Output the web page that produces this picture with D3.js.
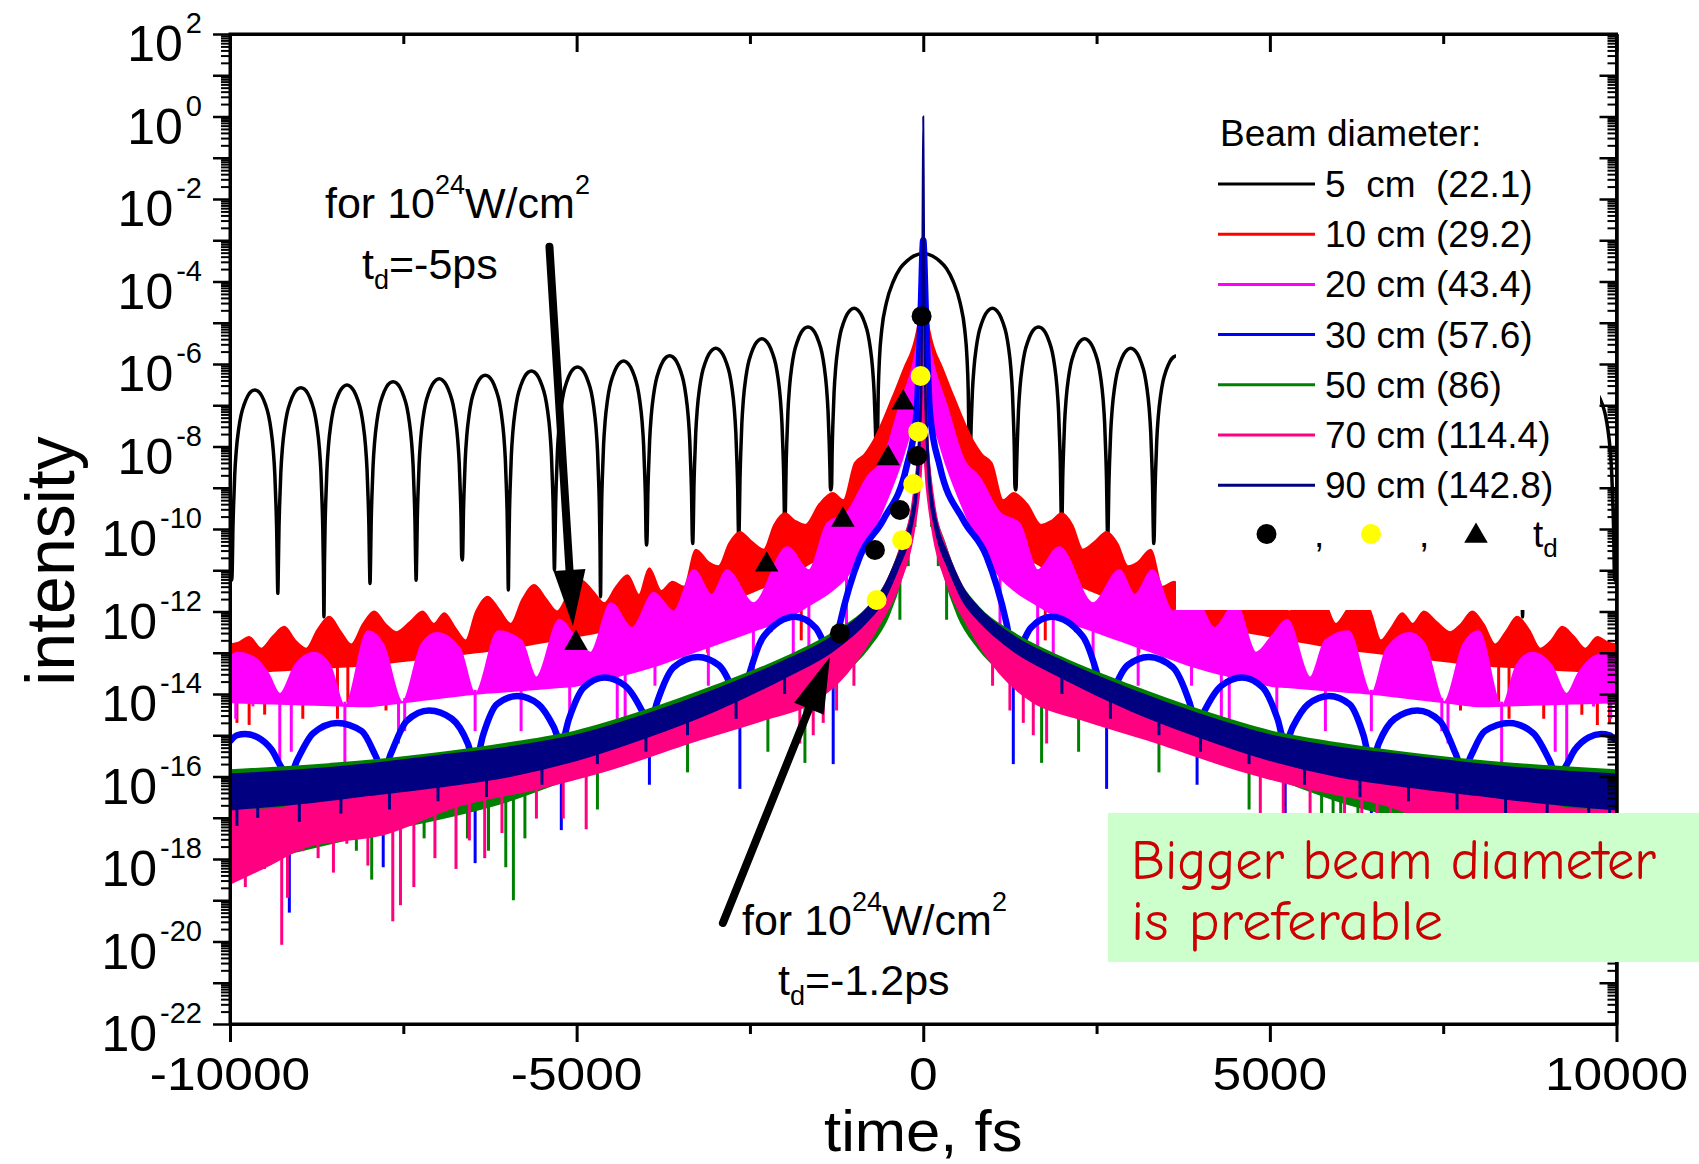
<!DOCTYPE html>
<html><head><meta charset="utf-8">
<script src="https://cdn.jsdelivr.net/npm/d3@7"></script>
<style>body{margin:0;background:#fff}svg{display:block}text{font-family:"Liberation Sans",Arial,sans-serif}</style>
</head><body>
<svg id="c" width="1699" height="1164"></svg>
<script>
// ---------------- DATA (time in fs, values are log10 of intensity) ----------------
const xTicksMajor = [-10000, -5000, 0, 5000, 10000];
const xTicksMinor = [-7500, -2500, 2500, 7500];
const yLabelExps = [2, 0, -2, -4, -6, -8, -10, -12, -14, -16, -18, -20, -22];

const legendLabels = ["5  cm  (22.1)", "10 cm (29.2)", "20 cm (43.4)", "30 cm (57.6)", "50 cm (86)", "70 cm (114.4)", "90 cm (142.8)"];
const seriesColors = ["#000000", "#ff0000", "#ff00ff", "#0000ff", "#008000", "#ff0080", "#000080"];

// 5 cm: sinc-like lobes (left half; right half is the mirror image)
const blackZeros = [-10640, -9975, -9310, -8645, -7980, -7315, -6650, -5985, -5320, -4655, -3990, -3325, -2660, -1995, -1330, -665];
const blackZeroDepth = [-11.0, -11.24, -11.56, -12.13, -11.32, -11.24, -10.75, -11.48, -10.99, -11.64, -10.39, -10.35, -10.27, -10.02, -9.05, -8.25];
const blackPeaks = [-6.68, -6.63, -6.575, -6.51, -6.43, -6.36, -6.27, -6.17, -6.07, -5.93, -5.80, -5.62, -5.39, -5.10, -4.65];
const blackCentralPeak = -3.32;
// shape of one side lobe: [fraction of lobe, decades below lobe top]
const lobeProfile = [[0.012, -4.3], [0.025, -3.4], [0.04, -2.8], [0.065, -2.05], [0.1, -1.45], [0.15, -0.95], [0.2, -0.62], [0.27, -0.35], [0.35, -0.14], [0.43, -0.03], [0.5, 0]];
// shape of the central lobe: [fraction of half width, decades below top]
const centralProfile = [[0.975, -3.3], [0.95, -2.55], [0.9, -1.85], [0.8, -1.2], [0.65, -0.68], [0.5, -0.36], [0.35, -0.18], [0.2, -0.06], [0, 0]];

// 10 cm (red) band
const redUpper = [[-10000,-12.8],[-9870,-12.75],[-9724,-12.62],[-9550,-12.9],[-9380,-12.6],[-9217,-12.37],[-9060,-12.7],[-8900,-12.9],[-8740,-12.45],[-8568,-12.13],[-8400,-12.5],[-8250,-12.8],[-8080,-12.3],[-7919,-12.0],[-7760,-12.3],[-7600,-12.5],[-7400,-12.25],[-7221,-12.0],[-7060,-12.3],[-6909,-12.04],[-6750,-12.4],[-6600,-12.7],[-6450,-12.0],[-6284,-11.64],[-6120,-11.95],[-5950,-12.3],[-5780,-11.7],[-5612,-11.36],[-5440,-11.7],[-5280,-12.0],[-5110,-11.55],[-4938,-11.24],[-4770,-11.5],[-4600,-11.8],[-4430,-11.4],[-4265,-11.12],[-4100,-11.6],[-3953,-10.95],[-3780,-11.5],[-3616,-11.28],[-3450,-11.4],[-3280,-10.5],[-3100,-10.8],[-2950,-10.9],[-2800,-10.35],[-2645,-10.07],[-2480,-10.3],[-2300,-10.5],[-2150,-9.9],[-1996,-9.62],[-1850,-9.8],[-1700,-9.9],[-1500,-9.4],[-1304,-9.13],[-1150,-9.3],[-987,-8.4],[-850,-8.2],[-730,-7.9],[-440,-6.8],[-267,-6.07],[-150,-5.6],[-90,-5.2],[-30,-4.5],[0,-3.7]];
const redLower = [[-10000,-13.5],[-8000,-13.3],[-6000,-12.9],[-4000,-12.3],[-3000,-11.9],[-2000,-11.2],[-1400,-10.6],[-1000,-9.9],[-700,-9.0],[-400,-7.8],[-150,-6.6],[0,-6.2]];
const redSpikes = [[-9970,-14.0],[-9900,-14.7],[-9724,-14.75],[-9500,-14.5],[-8950,-14.6],[-8800,-14.1],[-8450,-14.6],[-8300,-14.2],[-7750,-14.4],[-7050,-14.0],[-6700,-14.0],[-6000,-13.5],[-5300,-13.3],[-4592,-13.66],[-3920,-13.1],[-3110,-13.0],[-2195,-12.5],[-1760,-12.7]];

// 20 cm (magenta) band
const magUpper = [[-10000,-13.1],[-9900,-13.0],[-9670,-13.1],[-9450,-13.5],[-9280,-14.0],[-9060,-13.3],[-8785,-13.0],[-8560,-13.3],[-8343,-14.3],[-8011,-12.48],[-7790,-12.8],[-7514,-14.2],[-7238,-12.8],[-7017,-12.52],[-6685,-12.9],[-6464,-14.0],[-6133,-12.48],[-5801,-12.7],[-5580,-13.6],[-5249,-12.2],[-5028,-12.6],[-4800,-13.0],[-4505,-11.8],[-4200,-12.4],[-3885,-11.55],[-3600,-12.0],[-3308,-11.0],[-3050,-11.6],[-2831,-11.0],[-2450,-11.8],[-1960,-10.44],[-1650,-11.0],[-1384,-9.86],[-1100,-9.6],[-807,-8.74],[-580,-8.3],[-337,-7.0],[-145,-6.0],[-60,-5.3],[0,-5.0]];
const magLower = [[-10000,-14.2],[-8000,-14.3],[-6500,-14.0],[-5000,-13.8],[-4000,-13.4],[-3000,-12.8],[-2000,-12.2],[-1400,-11.6],[-1000,-11.0],[-700,-10.0],[-400,-8.8],[-150,-7.5],[0,-7.0]];
const magSpikes = [[-9917,-14.6],[-9669,-14.3],[-9282,-15.8],[-9116,-15.4],[-8343,-15.8],[-7569,-15.2],[-7480,-14.9],[-6464,-14.9],[-5801,-14.9],[-5100,-14.6],[-4414,-14.7],[-4300,-14.6],[-3870,-13.8],[-3100,-13.8],[-2450,-13.6],[-1875,-14.1],[-1650,-13.0],[-1107,-12.9]];

// 30 cm (blue) line
const blueLine = [[-10000,-15.15],[-9900,-15.0],[-9779,-14.97],[-9600,-15.05],[-9400,-15.35],[-9250,-15.8],[-9144,-16.0],[-9030,-15.6],[-8800,-14.95],[-8453,-14.7],[-8100,-14.9],[-7900,-15.5],[-7790,-15.9],[-7680,-15.45],[-7450,-14.65],[-7127,-14.4],[-6800,-14.6],[-6570,-15.2],[-6464,-15.7],[-6350,-15.0],[-6150,-14.25],[-5856,-14.05],[-5550,-14.25],[-5330,-14.8],[-5221,-15.2],[-5110,-14.6],[-4900,-13.85],[-4600,-13.6],[-4300,-13.8],[-4060,-14.4],[-3950,-14.8],[-3840,-14.2],[-3600,-13.35],[-3250,-13.1],[-2950,-13.3],[-2750,-13.9],[-2645,-14.4],[-2540,-13.7],[-2300,-12.6],[-1850,-12.13],[-1550,-12.4],[-1390,-12.9],[-1299,-13.1],[-1203,-12.3],[-914,-10.67],[-578,-9.78],[-241,-8.49],[-97,-7.2],[-38,-4.8],[0,-3.0]];
const blueSpikes = [[-9144,-19.3],[-7790,-18.2],[-6464,-18.1],[-5221,-17.3],[-3950,-16.2],[-2645,-16.3],[-1299,-15.7]];

// 50 cm (green) band (mostly hidden under the 70 cm and 90 cm bands)
const greenUpper = [[-10000,-15.85],[-8000,-15.62],[-6000,-15.2],[-5000,-14.9],[-4000,-14.4],[-3000,-13.8],[-2000,-13.12],[-1300,-12.52],[-800,-11.9],[-500,-11.2],[-300,-10.3],[-150,-9.4],[-50,-7.5],[0,-5]];
const greenLower = [[-10000,-18.2],[-8000,-17.4],[-6000,-16.6],[-5000,-16.0],[-4000,-15.5],[-3000,-14.9],[-2000,-14.4],[-1300,-13.7],[-800,-12.9],[-500,-12.1],[-300,-11.1],[-150,-10.0],[-50,-8.8],[0,-7.8]];
const greenSpikes = [[-9890,-18.4],[-9724,-18.3],[-9503,-18.24],[-9337,-17.8],[-8600,-17.6],[-8177,-17.8],[-7956,-18.5],[-7200,-17.5],[-6575,-17.5],[-6271,-17.8],[-6022,-18.2],[-5912,-19.0],[-5746,-17.5],[-4700,-16.8],[-3400,-15.9],[-2241,-15.4],[-1707,-15.67],[-337,-12.2],[-217,-10.9],[-120,-9.95]];

// 70 cm (pink) band
const pinkUpper = [[-10000,-16.8],[-9500,-16.8],[-8895,-16.65],[-7790,-16.3],[-6685,-15.85],[-5580,-15.55],[-4664,-15.1],[-3222,-14.3],[-2260,-13.7],[-1587,-13.15],[-1107,-12.65],[-627,-11.6],[-337,-10.5],[-150,-9.3],[-50,-7.5],[0,-5]];
const pinkLower = [[-10000,-18.6],[-9500,-18.2],[-8895,-17.7],[-7790,-17.4],[-6685,-16.7],[-5580,-16.3],[-4664,-15.9],[-3222,-15.1],[-2260,-14.6],[-1587,-14.2],[-1107,-13.5],[-627,-12.3],[-337,-11.3],[-150,-10.2],[-50,-9],[0,-8]];
const pinkSpikes = [[-9945,-18.5],[-9779,-18.68],[-9503,-18.24],[-9254,-20.08],[-9171,-18.94],[-8950,-17.81],[-8729,-17.98],[-8508,-18.33],[-8315,-17.63],[-8011,-18.16],[-7652,-19.51],[-7541,-19.12],[-7348,-18.68],[-7044,-17.98],[-6740,-18.24],[-6547,-17.55],[-6326,-17.98],[-6077,-17.37],[-5580,-17.02],[-5193,-17.02],[-4862,-17.28],[-1780,-15.2],[-1587,-15.0],[-1443,-14.7],[-1250,-14.4],[-1000,-13.8]];

// 90 cm (navy) band
const navyUpper = [[-10000,-15.95],[-9000,-15.85],[-8000,-15.7],[-7000,-15.5],[-6000,-15.3],[-5000,-15.0],[-4000,-14.5],[-3000,-13.9],[-2000,-13.2],[-1300,-12.6],[-818,-11.95],[-578,-11.45],[-337,-10.55],[-241,-10.15],[-150,-9.5],[-97,-8.8],[-50,-7.4],[-24,-5.8],[-10,-2.5],[0,0]];
const navyLower = [[-10000,-16.8],[-9000,-16.65],[-8000,-16.45],[-7000,-16.25],[-6000,-16.0],[-5000,-15.6],[-4000,-15.05],[-3000,-14.4],[-2000,-13.6],[-1300,-12.95],[-818,-12.25],[-578,-11.75],[-337,-10.85],[-241,-10.45],[-150,-9.8],[-97,-9.2],[-50,-7.9],[-24,-6.4],[-10,-3.5],[0,-1]];
const navySpikes = [[-9900,-17.2],[-9600,-17.0],[-9000,-17.1],[-8400,-16.9],[-7700,-16.8],[-7000,-16.6],[-6300,-16.5],[-5500,-16.2],[-4700,-15.7],[-4000,-15.4],[-3400,-15.0],[-2700,-14.6],[-2000,-14.0]];

// t_d markers
const blackDots = [[-24,-4.84],[-87,-8.23],[-337,-9.54],[-697,-10.51],[-1202,-12.53]];
const yellowDots = [[-38,-6.29],[-73,-7.64],[-145,-8.91],[-304,-10.27],[-673,-11.72]];
const triangles = [[-289,-6.89],[-506,-8.24],[-1159,-9.73],[-2259,-10.82],[-5010,-12.72]];

// annotation arrows [from, tip] in data units
const arrow1 = [[-5392,-3.16],[-5053,-12.35]];
const arrow2 = [[-2890,-19.55],[-1346,-13.1]];

// ---------------- DRAWING ----------------
const X0 = 230, X1 = 1616.5, Y0 = 34, Y1 = 1024;
const svg = d3.select("#c");
const x = d3.scaleLinear().domain([-10000, 10000]).range([X0, X1]);
const y = d3.scaleLog().domain([1e-22, 1e2]).range([Y1, Y0]);
const yL = v => y(Math.pow(10, v));

svg.append("defs").append("clipPath").attr("id", "plot")
  .append("rect").attr("x", X0).attr("y", Y0).attr("width", X1 - X0).attr("height", Y1 - Y0);
const g = svg.append("g").attr("clip-path", "url(#plot)");

const sym = a => a.concat(a.slice(0, -1).reverse().map(([t, v]) => [-t, v]));
const symSp = a => a.concat(a.map(([t, v]) => [-t, v]));

// black curve
function buildBlack() {
  const left = [];
  const fullProf = lobeProfile.concat(lobeProfile.slice(0, -1).reverse().map(([f, d]) => [1 - f, d]));
  for (let i = 0; i < blackPeaks.length; i++) {
    const t0 = blackZeros[i], t1 = blackZeros[i + 1];
    left.push([t0, blackZeroDepth[i]]);
    fullProf.forEach(([f, d]) => {
      const floor = f < 0.5 ? blackZeroDepth[i] : blackZeroDepth[i + 1];
      left.push([t0 + f * (t1 - t0), Math.max(blackPeaks[i] + d, floor)]);
    });
  }
  const zc = blackZeros[blackZeros.length - 1];
  left.push([zc, blackZeroDepth[blackZeroDepth.length - 1]]);
  centralProfile.forEach(([gf, d]) => left.push([gf * zc, blackCentralPeak + d]));
  return sym(left);
}
const lineGen = d3.line().x(d => x(d[0])).y(d => yL(d[1])).curve(d3.curveMonotoneX);
g.append("path").attr("d", lineGen(buildBlack())).attr("fill", "none").attr("stroke", "#000").attr("stroke-width", 3.5);

function band(upper, lower, spikes, color) {
  const U = sym(upper), Lo = sym(lower);
  const lo = d3.scaleLinear().domain(Lo.map(d => d[0])).range(Lo.map(d => d[1]));
  const area = d3.area().x(d => x(d[0])).y1(d => yL(d[1])).y0(d => yL(lo(d[0]))).curve(d3.curveMonotoneX);
  g.append("path").attr("d", area(U)).attr("fill", color).attr("stroke", color).attr("stroke-width", 2);
  g.append("g").selectAll("line").data(symSp(spikes)).join("line")
    .attr("x1", d => x(d[0])).attr("x2", d => x(d[0]))
    .attr("y1", d => yL(lo(d[0])) - 4).attr("y2", d => yL(d[1]))
    .attr("stroke", color).attr("stroke-width", 3);
}
band(redUpper, redLower, redSpikes, seriesColors[1]);
band(magUpper, magLower, magSpikes, seriesColors[2]);
// blue
{
  const B = sym(blueLine);
  const bl = d3.scaleLinear().domain(B.map(d => d[0])).range(B.map(d => d[1]));
  g.append("g").selectAll("line").data(symSp(blueSpikes)).join("line")
    .attr("x1", d => x(d[0])).attr("x2", d => x(d[0]))
    .attr("y1", d => yL(bl(d[0]))).attr("y2", d => yL(d[1]))
    .attr("stroke", seriesColors[3]).attr("stroke-width", 3);
  g.append("path").attr("d", lineGen(B)).attr("fill", "none").attr("stroke", seriesColors[3]).attr("stroke-width", 6.5);
}
band(greenUpper, greenLower, greenSpikes, seriesColors[4]);
band(pinkUpper, pinkLower, pinkSpikes, seriesColors[5]);
band(navyUpper, navyLower, navySpikes, seriesColors[6]);

// markers
g.append("g").selectAll("circle").data(blackDots).join("circle")
  .attr("cx", d => x(d[0])).attr("cy", d => yL(d[1])).attr("r", 10).attr("fill", "#000");
g.append("g").selectAll("circle").data(yellowDots).join("circle")
  .attr("cx", d => x(d[0])).attr("cy", d => yL(d[1])).attr("r", 10).attr("fill", "#ffff00");
const tri = d3.symbol(d3.symbolTriangle, 240);
g.append("g").selectAll("path").data(triangles).join("path")
  .attr("d", tri).attr("transform", d => `translate(${x(d[0])},${yL(d[1]) + 2})`).attr("fill", "#000");

// legend box (white background)
svg.append("rect").attr("x", 1176).attr("y", 90).attr("width", 424).attr("height", 520).attr("fill", "#fff");
const lg = svg.append("g");
lg.append("text").attr("x", 1220).attr("y", 146).attr("font-size", 37).text("Beam diameter:");
legendLabels.forEach((lab, i) => {
  const yy = 184 + i * 50.2;
  lg.append("line").attr("x1", 1218).attr("x2", 1315).attr("y1", yy).attr("y2", yy)
    .attr("stroke", seriesColors[i]).attr("stroke-width", 3);
  lg.append("text").attr("x", 1325).attr("y", yy + 13).attr("font-size", 37)
    .style("white-space", "pre").text(lab);
});
lg.append("circle").attr("cx", 1266.5).attr("cy", 534).attr("r", 10).attr("fill", "#000");
lg.append("circle").attr("cx", 1371).attr("cy", 534).attr("r", 10).attr("fill", "#ffff00");
lg.append("path").attr("d", tri).attr("transform", "translate(1476,536)").attr("fill", "#000");
lg.append("text").attr("x", 1314).attr("y", 547).attr("font-size", 37).text(",");
lg.append("text").attr("x", 1419).attr("y", 547).attr("font-size", 37).text(",");
const tdL = lg.append("text").attr("x", 1533).attr("y", 547).attr("font-size", 37);
tdL.append("tspan").text("t");
tdL.append("tspan").attr("font-size", 26).attr("dy", 10).text("d");

// axes
const ax = svg.append("g");
const decades = d3.range(-22, 3).map(e => Math.pow(10, e));
const minors = [];
for (let e = -22; e < 2; e++) for (let k = 2; k <= 9; k++) minors.push(k * Math.pow(10, e));
function styleAxis(sel, w) {
  sel.select(".domain").attr("stroke-width", 3);
  sel.selectAll(".tick line").attr("stroke-width", w);
  sel.selectAll(".tick text").remove();
}
ax.append("g").attr("transform", `translate(${X0},0)`).call(d3.axisLeft(y).tickValues(decades).tickSize(17).tickSizeOuter(0)).call(s => styleAxis(s, 2.5));
ax.append("g").attr("transform", `translate(${X0},0)`).call(d3.axisLeft(y).tickValues(minors).tickSize(9).tickSizeOuter(0)).call(s => styleAxis(s, 2));
ax.append("g").attr("transform", `translate(${X1},0)`).call(d3.axisLeft(y).tickValues(decades).tickSize(17).tickSizeOuter(0)).call(s => styleAxis(s, 2.5));
ax.append("g").attr("transform", `translate(${X1},0)`).call(d3.axisLeft(y).tickValues(minors).tickSize(9).tickSizeOuter(0)).call(s => styleAxis(s, 2));
ax.append("g").attr("transform", `translate(0,${Y1})`).call(d3.axisBottom(x).tickValues(xTicksMajor).tickSize(18).tickSizeOuter(0)).call(s => styleAxis(s, 3));
ax.append("g").attr("transform", `translate(0,${Y1})`).call(d3.axisBottom(x).tickValues(xTicksMinor).tickSize(10).tickSizeOuter(0)).call(s => styleAxis(s, 3));
ax.append("g").attr("transform", `translate(0,${Y0})`).call(d3.axisBottom(x).tickValues(xTicksMajor).tickSize(18).tickSizeOuter(0)).call(s => styleAxis(s, 3));
ax.append("g").attr("transform", `translate(0,${Y0})`).call(d3.axisBottom(x).tickValues(xTicksMinor).tickSize(10).tickSizeOuter(0)).call(s => styleAxis(s, 3));
ax.append("rect").attr("x", X0).attr("y", Y0).attr("width", X1 - X0).attr("height", Y1 - Y0)
  .attr("fill", "none").attr("stroke", "#000").attr("stroke-width", 3);

// tick labels
yLabelExps.forEach(e => {
  const ty = y(Math.pow(10, e));
  const ex = ax.append("text").attr("x", 202).attr("y", ty - 1).attr("font-size", 29)
    .attr("text-anchor", "end").text(String(e));
  const w = ex.node().getComputedTextLength();
  ax.append("text").attr("x", 202 - w - 3).attr("y", ty + 27).attr("font-size", 50)
    .attr("text-anchor", "end").text("10");
});
xTicksMajor.forEach(v => {
  ax.append("text").attr("transform", `translate(${x(v)},1090) scale(1.12,1)`).attr("font-size", 46)
    .attr("text-anchor", "middle").text(String(v));
});
// axis titles
svg.append("text").attr("x", (X0 + X1) / 2).attr("y", 1151).attr("font-size", 57)
  .attr("text-anchor", "middle").attr("transform", `translate(${(X0 + X1) / 2},0) scale(1.08,1) translate(${-(X0 + X1) / 2},0)`)
  .text("time, fs");
svg.append("text").attr("transform", "translate(74,561) rotate(-90)").attr("font-size", 68)
  .attr("text-anchor", "middle").text("intensity");

// annotations
function arrow([[t1, v1], [t2, v2]]) {
  const xa = x(t1), ya = yL(v1), xb = x(t2), yb = yL(v2);
  const dx = xb - xa, dy = yb - ya, L = Math.hypot(dx, dy), ux = dx / L, uy = dy / L;
  const len = 56, hw = 16, bx = xb - ux * len, by = yb - uy * len;
  svg.append("line").attr("x1", xa).attr("y1", ya).attr("x2", bx + ux * 4).attr("y2", by + uy * 4)
    .attr("stroke", "#000").attr("stroke-width", 8).attr("stroke-linecap", "round");
  svg.append("path").attr("d", `M${xb},${yb}L${bx - uy * hw},${by + ux * hw}L${bx + uy * hw},${by - ux * hw}Z`).attr("fill", "#000");
}
arrow(arrow1);
arrow(arrow2);
function intensityNote(xp, yp) {
  const t = svg.append("text").attr("x", xp).attr("y", yp).attr("font-size", 43);
  t.append("tspan").text("for 10");
  t.append("tspan").attr("font-size", 27).attr("dy", -24).text("24");
  t.append("tspan").attr("dy", 24).text("W/cm");
  t.append("tspan").attr("font-size", 27).attr("dy", -24).text("2");
}
function tdNote(xp, yp, val) {
  const t = svg.append("text").attr("x", xp).attr("y", yp).attr("font-size", 43);
  t.append("tspan").text("t");
  t.append("tspan").attr("font-size", 27).attr("dy", 10).text("d");
  t.append("tspan").attr("dy", -10).text(val);
}
intensityNote(325, 218);
tdNote(362, 279, "=-5ps");
intensityNote(742, 935);
tdNote(778, 995, "=-1.2ps");

// message box
svg.append("rect").attr("x", 1108).attr("y", 813).attr("width", 591).attr("height", 149).attr("fill", "#ccffcc");
svg.append("text").attr("x", 1131).attr("y", 879).attr("font-size", 56).attr("fill", "#cc0000")
  .style("font-family", "'Comic Sans MS','Comic Neue','Noto Sans',sans-serif")
  .attr("textLength", 525).attr("lengthAdjust", "spacingAndGlyphs").text("Bigger beam diameter");
svg.append("text").attr("x", 1131).attr("y", 940).attr("font-size", 56).attr("fill", "#cc0000")
  .style("font-family", "'Comic Sans MS','Comic Neue','Noto Sans',sans-serif")
  .attr("textLength", 312).attr("lengthAdjust", "spacingAndGlyphs").text("is preferable");
</script>
</body></html>
